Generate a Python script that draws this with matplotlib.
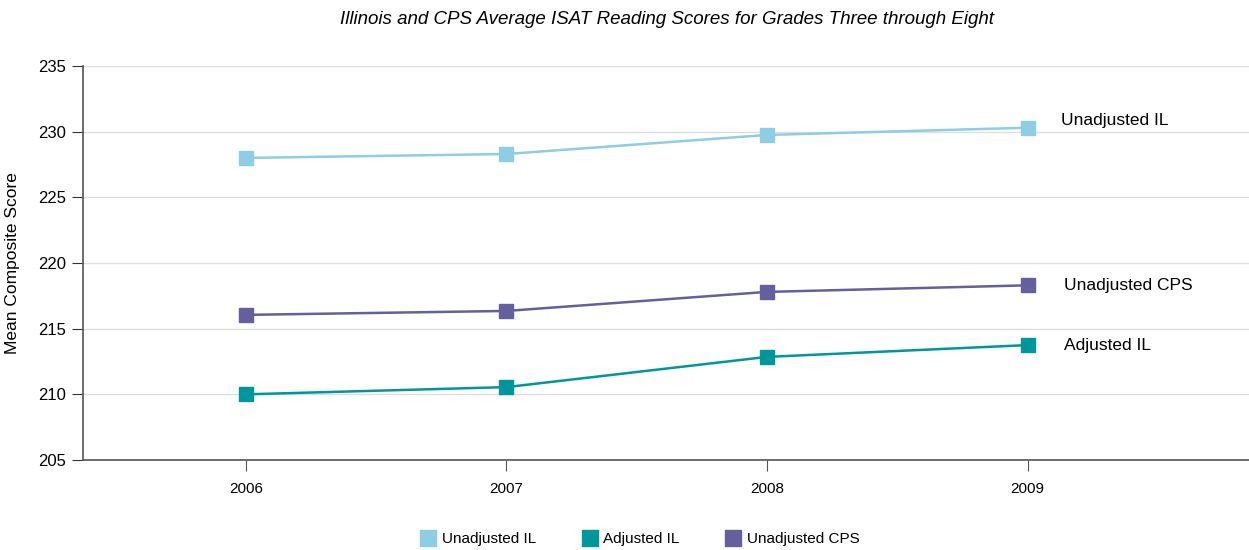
import matplotlib
matplotlib.use("Agg")
import matplotlib.pyplot as plt
from matplotlib.lines import Line2D

plt.rcParams['font.family'] = ['Liberation Sans', 'DejaVu Sans']

years = [2006, 2007, 2008, 2009]
unadj_il = [228.0, 228.3, 229.75, 230.3]
adj_il = [210.0, 210.55, 212.85, 213.75]
unadj_cps = [216.05, 216.35, 217.8, 218.3]
series_names = ["Unadjusted IL", "Adjusted IL", "Unadjusted CPS"]
colors = ["#8ecde3", "#00969b", "#645f9d"]
yticks = [205, 210, 215, 220, 225, 230, 235]

fig = plt.figure(figsize=(12.49, 5.5), dpi=100)
ax = fig.add_axes([83/1249, 1-460/550, 1-83/1249, (460-66)/550])

for vals, name, c in zip([unadj_il, adj_il, unadj_cps], series_names, colors):
    ax.plot(years, vals, color=c, lw=1.8, marker='s', ms=10, mec=c, mfc=c, label=name)

ax.set_xlim(2005.375, 2009.85)
ax.set_ylim(205, 235)
ax.set_yticks(yticks)
ax.set_xticks(years)
ax.grid(axis='y', color='#dedede', lw=1)
ax.set_axisbelow(True)
for s in ['top', 'right']:
    ax.spines[s].set_visible(False)
for s in ['left', 'bottom']:
    ax.spines[s].set_color('#555555')
    ax.spines[s].set_linewidth(1.2)
ax.tick_params(axis='y', length=8, color='#333333', labelsize=12, pad=4)
ax.tick_params(axis='x', length=8, color='#555555', labelsize=11, pad=8)
ax.set_ylabel("Mean Composite Score", fontsize=12.5)
ax.yaxis.set_label_coords(-(83-20)/1166, 0.5)

# end labels
ax.annotate("Unadjusted IL", (years[-1], unadj_il[-1]), xytext=(24, 5), textcoords='offset points',
            fontsize=12.5, va='center', ha='left')
ax.annotate("Unadjusted CPS", (years[-1], unadj_cps[-1]), xytext=(26, 0), textcoords='offset points',
            fontsize=12.5, va='center', ha='left')
ax.annotate("Adjusted IL", (years[-1], adj_il[-1]), xytext=(26, 0), textcoords='offset points',
            fontsize=12.5, va='center', ha='left')

fig.text(667/1249, 1-20/550, "Illinois and CPS Average ISAT Reading Scores for Grades Three through Eight",
         ha='center', va='center', fontsize=13.5, style='italic')

handles = [Line2D([], [], ls='none', marker='s', ms=11, mfc=c, mec=c) for c in colors]
fig.legend(handles, series_names, loc='center', bbox_to_anchor=(640/1249, 1-539/550), ncol=3,
           frameon=False, fontsize=11, handletextpad=0.4, columnspacing=3.0, handlelength=1.0)

fig.savefig("out.png", dpi=100)
